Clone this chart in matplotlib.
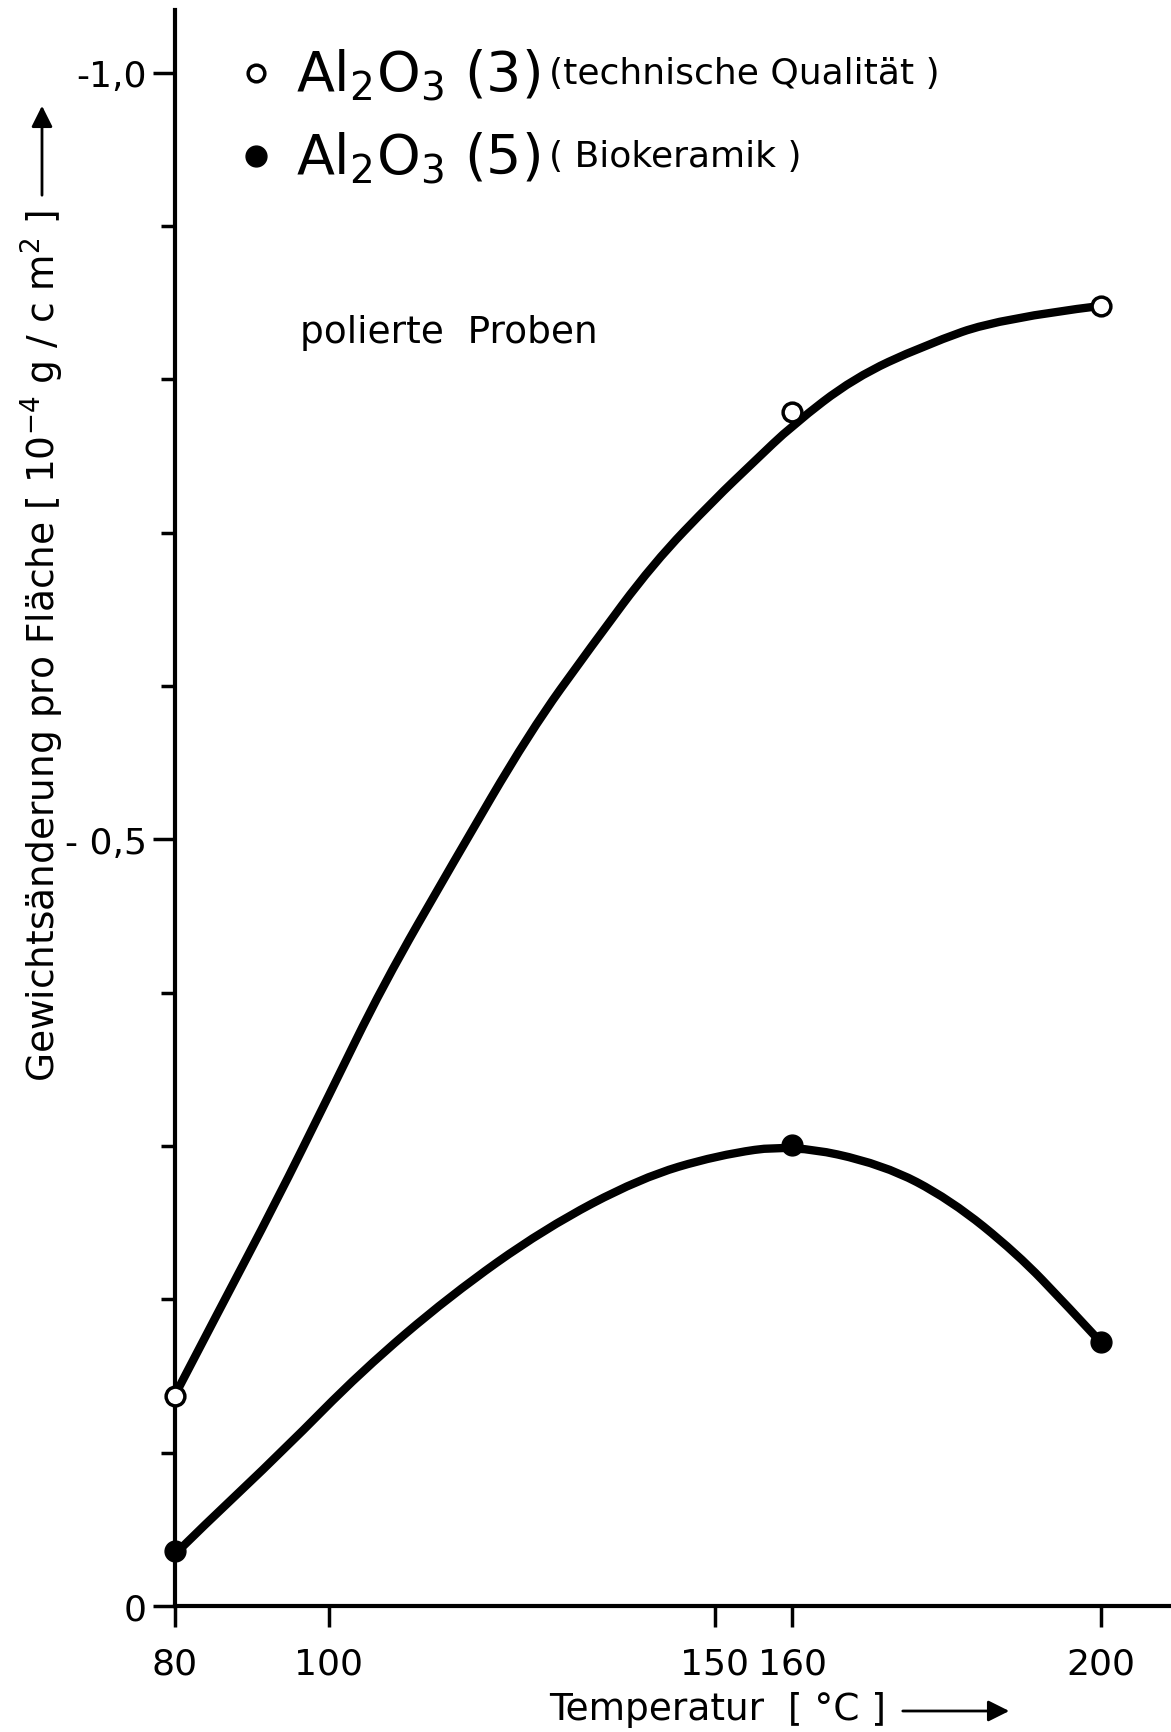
import matplotlib
matplotlib.use("Agg")
import matplotlib.pyplot as plt
from matplotlib.path import Path
from matplotlib.patches import PathPatch, FancyArrowPatch
from matplotlib.ticker import FixedLocator

# Messpunkte (Temperatur in °C, Gewichtsaenderung in 10^-4 g/cm^2)
temp_points = [80, 160, 200]
al2o3_3_points = [-0.137, -0.779, -0.848]   # technische Qualitaet (offene Kreise)
al2o3_5_points = [-0.036, -0.301, -0.172]   # Biokeramik (volle Kreise)

# Ausgleichskurven
curve3_x = [80, 86, 93, 100, 107, 116, 126, 134, 142, 150, 155, 160, 168, 177, 187, 200]
curve3_y = [-0.137, -0.195, -0.262, -0.333, -0.405, -0.484, -0.570, -0.626, -0.680,
            -0.722, -0.746, -0.770, -0.801, -0.822, -0.840, -0.848]
curve5_x = [80.5, 83.3, 94.2, 104.2, 115.6, 127.9, 140.3, 150.3, 160, 171.8, 180.5,
            189.1, 195.6, 200]
curve5_y = [-0.036, -0.050, -0.102, -0.153, -0.202, -0.246, -0.279, -0.294, -0.301,
            -0.288, -0.265, -0.230, -0.196, -0.172]

x_ticks = [80, 100, 150, 160, 200]
y_ticks = [0, -0.5, -1.0]
y_ticklabels = ["0", "- 0,5", "-1,0"]
y_minor = [-0.1, -0.2, -0.3, -0.4, -0.6, -0.7, -0.8, -0.9]


def smooth_path(xs, ys):
    pts = list(zip(xs, ys))
    verts = [pts[0]]
    codes = [Path.MOVETO]
    for i in range(1, len(pts) - 1):
        mid = ((pts[i][0] + pts[i + 1][0]) / 2, (pts[i][1] + pts[i + 1][1]) / 2)
        if i == len(pts) - 2:
            mid = pts[-1]
        verts += [pts[i], mid]
        codes += [Path.CURVE3, Path.CURVE3]
    return Path(verts, codes)


W, H = 1171, 1733
fig = plt.figure(figsize=(W / 100, H / 100), dpi=100)
ax = fig.add_axes([174.5 / W, 1 - 1607 / H, 1 - 174.5 / W, (1607 - 11) / H])

for cx, cy in [(curve3_x, curve3_y), (curve5_x, curve5_y)]:
    ax.add_patch(PathPatch(smooth_path(cx, cy), fill=False, lw=6, ec="black",
                           capstyle="round", joinstyle="round", clip_on=False))
ax.plot(temp_points, al2o3_3_points, "o", ms=13.5, mfc="white", mec="black", mew=2.5,
        clip_on=False, zorder=5)
ax.plot(temp_points, al2o3_5_points, "o", ms=15, mfc="black", mec="black",
        clip_on=False, zorder=5)

ax.set_xlim(80, 80 + (W - 174.5) / 7.72)
ax.set_ylim(0, -1.041)

for s in ["top", "right"]:
    ax.spines[s].set_visible(False)
for s in ["left", "bottom"]:
    ax.spines[s].set_linewidth(3)

ax.xaxis.set_major_locator(FixedLocator(x_ticks))
ax.set_xticklabels([str(t) for t in x_ticks])
ax.yaxis.set_major_locator(FixedLocator(y_ticks))
ax.set_yticklabels(y_ticklabels)
ax.yaxis.set_minor_locator(FixedLocator(y_minor))
ax.tick_params(axis="x", direction="out", length=15, width=2.5, pad=14, labelsize=26)
ax.tick_params(axis="y", which="major", direction="out", length=16, width=2.5, pad=4,
               labelsize=26)
ax.tick_params(axis="y", which="minor", direction="out", length=10, width=2.5)

# Legende im Diagramm
ax.plot([90.6], [-1.0], "o", ms=12, mfc="white", mec="black", mew=2.5, clip_on=False)
ax.plot([90.6], [-0.946], "o", ms=15, mfc="black", mec="black", clip_on=False)
ax.text(296 / W, 1 - 76 / H, r"Al$_\mathregular{2}$O$_\mathregular{3}$ (3)",
        transform=fig.transFigure, fontsize=40, va="center", ha="left")
ax.text(549 / W, 1 - 74 / H, "(technische Qualität )", transform=fig.transFigure,
        fontsize=26, va="center", ha="left")
ax.text(296 / W, 1 - 159 / H, r"Al$_\mathregular{2}$O$_\mathregular{3}$ (5)",
        transform=fig.transFigure, fontsize=40, va="center", ha="left")
ax.text(549 / W, 1 - 157 / H, "( Biokeramik )", transform=fig.transFigure,
        fontsize=26, va="center", ha="left")

ax.text(300 / W, 1 - 333 / H, "polierte  Proben", transform=fig.transFigure,
        fontsize=27, va="center", ha="left")

# Achsenbeschriftungen mit Pfeilen
fig.text(42 / W, 1 - 646 / H,
         r"Gewichtsänderung pro Fläche [ 10$^{-4}$ g / c m$^{2}$ ]",
         rotation=90, fontsize=27, va="center", ha="center")
fig.text(549 / W, 1 - 1710 / H, "Temperatur  [ °C ]", fontsize=27, va="center", ha="left")
fig.add_artist(FancyArrowPatch(
    (42 / W, 1 - 199 / H), (42 / W, 1 - 104 / H), transform=fig.transFigure,
    arrowstyle="-|>", mutation_scale=32, lw=2, color="black"))
fig.add_artist(FancyArrowPatch(
    (900 / W, 1 - 1712 / H), (1012 / W, 1 - 1712 / H), transform=fig.transFigure,
    arrowstyle="-|>", mutation_scale=32, lw=2, color="black"))

fig.savefig("out.png", dpi=100)
